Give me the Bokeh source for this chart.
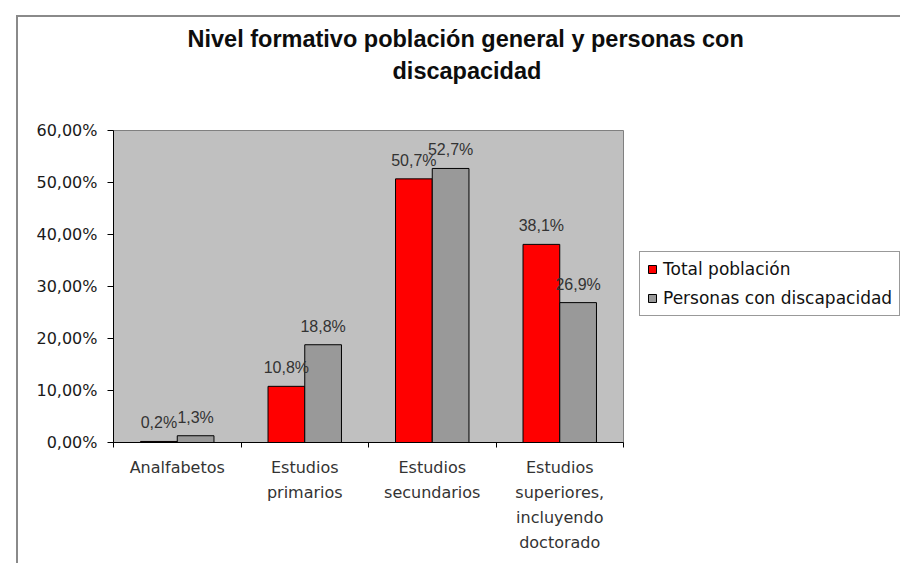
from bokeh.plotting import figure
from bokeh.models import (ColumnDataSource, Range1d, FixedTicker, LinearAxis,
                          LabelSet, Legend, LegendItem, Title)
from bokeh.transform import dodge
from bokeh.embed import file_html
from bokeh.resources import INLINE
from bokeh.core.properties import value

# ---------------- data ----------------
categories = ["Analfabetos", "Estudios\nprimarios", "Estudios\nsecundarios",
              "Estudios\nsuperiores,\nincluyendo\ndoctorado"]
series_names = ["Total población", "Personas con discapacidad"]
total_poblacion = [0.2, 10.8, 50.7, 38.1]
personas_discapacidad = [1.3, 18.8, 52.7, 26.9]
y_ticks = [0, 10, 20, 30, 40, 50, 60]
y_tick_labels = ["0,00%", "10,00%", "20,00%", "30,00%", "40,00%", "50,00%", "60,00%"]
title_lines = ["Nivel formativo población general y personas con", "discapacidad"]


def pct(v):
    return f"{v:.1f}%".replace(".", ",")


centers = [i + 0.5 for i in range(len(categories))]
boundaries = list(range(len(categories) + 1))

src = ColumnDataSource(dict(
    xc=centers,
    total=total_poblacion,
    disc=personas_discapacidad,
    total_lbl=[pct(v) for v in total_poblacion],
    disc_lbl=[pct(v) for v in personas_discapacidad],
))

p = figure(frame_width=510, frame_height=312,
           x_range=Range1d(0, len(categories)), y_range=Range1d(0, 60),
           output_backend="svg", toolbar_location=None,
           x_axis_location=None, y_axis_location=None,
           min_border_left=95, min_border_right=0, min_border_top=113, min_border_bottom=121)
p.margin = (15, 0, 0, 16)
p.styles = {"border-left": "2px solid #8a8a8a", "border-top": "2px solid #8a8a8a"}
p.background_fill_color = "#C0C0C0"
p.border_fill_color = "white"
p.outline_line_color = "#808080"
p.outline_line_width = 1
p.xgrid.visible = False
p.ygrid.visible = False

# y axis
yax = LinearAxis(ticker=FixedTicker(ticks=y_ticks),
                 major_label_overrides={t: l for t, l in zip(y_ticks, y_tick_labels)})
yax.axis_line_color = "black"
yax.major_tick_line_color = "black"
yax.major_tick_out = 6
yax.major_tick_in = 0
yax.minor_tick_line_color = None
yax.major_label_standoff = 10
yax.major_label_text_font = "DejaVu Sans"
yax.major_label_text_font_size = "16px"
yax.major_label_text_color = "#1a1a1a"
p.add_layout(yax, "left")

# x axis: labels at category centres, tick marks at category boundaries
xax = LinearAxis(ticker=FixedTicker(ticks=centers, minor_ticks=boundaries),
                 major_label_overrides={c: l for c, l in zip(centers, categories)})
xax.axis_line_color = "black"
xax.major_tick_line_color = None
xax.major_tick_out = 0
xax.major_tick_in = 0
xax.minor_tick_line_color = "black"
xax.minor_tick_out = 5
xax.minor_tick_in = 0
xax.major_label_standoff = 10
xax.major_label_text_font = "DejaVu Sans"
xax.major_label_text_font_size = "16px"
xax.major_label_text_color = "#333333"
xax.major_label_text_line_height = 1.33
p.add_layout(xax, "below")

bw = 0.288
r1 = p.vbar(x=dodge("xc", -bw / 2), top="total", width=bw, source=src,
            fill_color="#FF0000", line_color="black", line_width=1)
r2 = p.vbar(x=dodge("xc", bw / 2), top="disc", width=bw, source=src,
            fill_color="#999999", line_color="black", line_width=1)

lbl_kw = dict(text_align="center", text_baseline="alphabetic", y_offset=13,
              text_font=value("Liberation Sans"), text_font_size="16px", text_color="#333333")
p.add_layout(LabelSet(x=dodge("xc", -bw / 2), y="total", text="total_lbl", source=src, **lbl_kw))
p.add_layout(LabelSet(x=dodge("xc", bw / 2), y="disc", text="disc_lbl", source=src, **lbl_kw))

# title: spacer nearest the plot, then line 2, then line 1
p.add_layout(Title(text=" ", standoff=44, text_font_size="1px"), "above")
for t, off, so in ((title_lines[1], 279, 0), (title_lines[0], 74, 8)):
    p.add_layout(Title(text=t, align="left", offset=off, standoff=so,
                       text_font="Liberation Sans", text_font_style="bold",
                       text_font_size="23.5px", text_color="#0d0d0d"), "above")

legend = Legend(items=[LegendItem(label=series_names[0], renderers=[r1]),
                       LegendItem(label=series_names[1], renderers=[r2])],
                location=(16, 126), orientation="vertical")
legend.border_line_color = "#333333"
legend.border_line_width = 1
legend.background_fill_color = "white"
legend.background_fill_alpha = 1
legend.label_text_font = "DejaVu Sans"
legend.label_text_font_size = "17px"
legend.label_text_color = "#111111"
legend.glyph_width = 10
legend.glyph_height = 10
legend.label_standoff = 6
legend.padding = 7
legend.spacing = 9
legend.label_height = 20
legend.margin = 0
p.add_layout(legend, "right")

open("out.html", "w").write(file_html(p, INLINE))
